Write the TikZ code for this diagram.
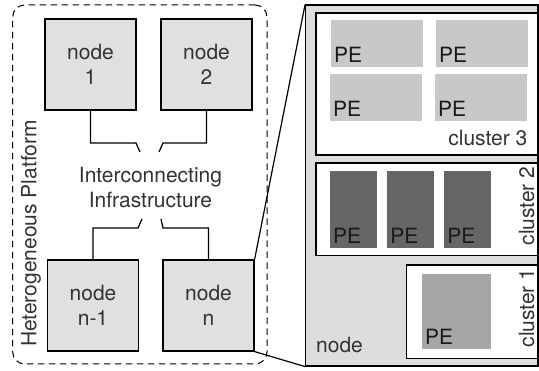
\documentclass[tikz,border=0pt]{standalone}
\usepackage{fontspec}
\setmainfont{TeX Gyre Heros}
\definecolor{nodegray}{HTML}{E0E0E0}
\definecolor{biggray}{HTML}{DDDDDD}
\definecolor{pelight}{HTML}{C8C8C8}
\definecolor{pedark}{HTML}{666666}
\definecolor{pemid}{HTML}{A6A6A6}
\definecolor{ink}{HTML}{333333}
\begin{document}
\begin{tikzpicture}[x=1pt,y=-1pt,
  font=\fontsize{21}{25}\selectfont,
  every node/.style={text=ink},
  nodebox/.style={draw=black, line width=1.2pt, fill=nodegray, minimum width=91pt,
    minimum height=91pt, inner sep=0pt, align=center},
  conn/.style={draw=black, line width=1.2pt},
  frame/.style={draw=black, line width=1.2pt, inner sep=0pt},
  pebox/.style={inner sep=0pt, outer sep=0pt},
  pelabel/.style={anchor=base west, inner sep=0pt, text=black!90},
  textlabel/.style={inner sep=0pt}]
\useasboundingbox (0,0) rectangle (539,371);

% platform outline
\node[draw=black, dash pattern=on 6.5pt off 4.5pt, line width=1pt,
  rounded corners=12pt, minimum width=254.3pt, minimum height=359pt, inner sep=0pt]
  (platform) at (139.85,184.5) {};
\node[textlabel, rotate=90] (plabel) at (31,233.5) {Heterogeneous Platform};

% compute nodes
\node[nodebox] (n1) at (90.5,64.5) {node\\1};
\node[nodebox] (n2) at (206.5,64.5) {node\\2};
\node[nodebox] (nm) at (93,305.5) {node\\n-1};
\node[nodebox] (nn) at (208.5,305.5) {node\\n};

% interconnect
\node[textlabel, align=center] (infra) at (150.5,188) {Interconnecting\\Infrastructure};
\coordinate (t1) at (140,152);
\coordinate (t2) at (159,152);
\coordinate (b1) at (142,219);
\coordinate (b2) at (161,219);
\draw[conn] (n1.south) |- (136,143) -- (t1);
\draw[conn] (n2.south) |- (163,143) -- (t2);
\draw[conn] (nm.north) |- (138,228) -- (b1);
\draw[conn] (nn.north) |- (163,228) -- (b2);

% detailed view of one node
\node[frame, fill=biggray, minimum width=232.3pt, minimum height=361pt]
  (detail) at (421.85,185.5) {};
\draw[conn] (nn.north east) -- (detail.north west);
\draw[conn] (nn.south east) -- (detail.south west);
\node[pelabel, text=ink] (dlabel) at (316,353) {node};

% cluster 3
\node[frame, fill=white, minimum width=222pt, minimum height=142pt] (c3) at (427,84) {};
\node[pebox, fill=pelight, minimum width=91.7pt, minimum height=46.7pt] (p31) at (376.85,43.35) {};
\node[pebox, fill=pelight, minimum width=91.7pt, minimum height=46.7pt] (p32) at (481.85,43.35) {};
\node[pebox, fill=pelight, minimum width=91.7pt, minimum height=46.7pt] (p33) at (375.85,97.35) {};
\node[pebox, fill=pelight, minimum width=91.7pt, minimum height=46.7pt] (p34) at (480.85,97.35) {};
\foreach \p in {p31,p32,p33,p34}
  \node[pelabel] (\p l) at ([shift={(3,-4)}]\p.south west) {PE};
\node[textlabel, anchor=base east] (c3l) at (527.5,145.7) {cluster 3};

% cluster 2
\node[frame, fill=white, minimum width=222pt, minimum height=92.7pt] (c2) at (427,209.35) {};
\node[pebox, fill=pedark, minimum width=46.7pt, minimum height=76.7pt] (p21) at (353.35,209.35) {};
\node[pebox, fill=pedark, minimum width=46.7pt, minimum height=76.7pt] (p22) at (410.5,209.35) {};
\node[pebox, fill=pedark, minimum width=46.7pt, minimum height=76.7pt] (p23) at (467.5,209.35) {};
\foreach \p in {p21,p22,p23}
  \node[pelabel] (\p l) at ([shift={(3,-4)}]\p.south west) {PE};
\node[textlabel, rotate=90, anchor=base] (c2l) at (534,206) {cluster 2};

% cluster 1
\node[frame, fill=white, minimum width=131.3pt, minimum height=93.3pt] (c1) at (472.35,311.65) {};
\node[pebox, fill=pemid, minimum width=69pt, minimum height=75pt] (p11) at (456.5,311.5) {};
\node[pelabel] (p11l) at ([shift={(3,-4)}]p11.south west) {PE};
\node[textlabel, rotate=90, anchor=base] (c1l) at (534,308) {cluster 1};
\end{tikzpicture}
\end{document}
